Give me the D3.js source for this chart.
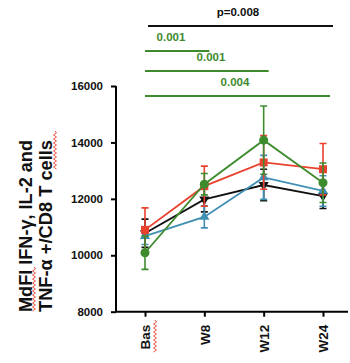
<!DOCTYPE html>
<html><head><meta charset="utf-8">
<script src="https://cdn.jsdelivr.net/npm/d3@7"></script>
<style>body{margin:0;background:#fff}svg{display:block;font-family:"Liberation Sans",Arial,sans-serif}</style>
</head><body><svg id="c" width="350" height="363"></svg>
<script>
const categories = ["Bas","W8","W12","W24"];
const yTicks = [8000,10000,12000,14000,16000];
const redVals   = [10900,12450,13290,13050];
const redErr    = [780,710,950,910];
const blackVals = [10780,11980,12490,12100];
const blackErr  = [500,440,560,440];
const blueVals  = [10680,11360,12760,12280];
const blueErr   = [300,390,780,540];
const greenVals = [10090,12520,14080,12570];
const greenErr  = [590,380,1210,700];
const sigLabels = ["p=0.008","0.001","0.001","0.004"];
const sigFrom   = ["Bas","Bas","Bas","Bas"];
const sigTo     = ["W24","W8","W12","W24"];
const yLabelLines = ["MdFI IFN-γ, IL-2 and","TNF-α +/CD8 T cells"];

const svg = d3.select("#c");
const x = d3.scalePoint().domain(categories).range([145,323]);
const y = d3.scaleLinear().domain([8000,16000]).range([311.7,86]);
const GREEN="#3e8b2e", RED="#e9412e", BLUE="#3f8fb3", BLACK="#111";

// axes
const ya = svg.append("g").attr("transform","translate(116,0)")
  .call(d3.axisLeft(y).tickValues(yTicks).tickFormat(d3.format("d")).tickSize(5).tickSizeOuter(0));
ya.select(".domain").attr("stroke-width",2).attr("d","M0,"+y(16000)+"V"+y(8000));
ya.selectAll(".tick line").attr("stroke-width",2);
ya.selectAll(".tick text").attr("font-size",11.5).attr("font-weight","bold").attr("x",-13).attr("fill","#111");

const xa = svg.append("g").attr("transform","translate(0,311.7)")
  .call(d3.axisBottom(x).tickSize(5).tickSizeOuter(0));
xa.select(".domain").attr("stroke-width",2).attr("d","M116,0H348");
xa.selectAll(".tick line").attr("stroke-width",2);
xa.selectAll(".tick text").attr("font-size",13.5).attr("font-weight","bold").attr("fill","#111")
  .attr("transform","rotate(-90)").attr("text-anchor","end").attr("x",-13).attr("y",0).attr("dy","0.36em");

// y label
const lab = svg.append("text").attr("transform","translate(0,226) rotate(-90)")
  .attr("text-anchor","middle").attr("font-weight","bold").attr("font-size",19).attr("fill","#111");
yLabelLines.forEach((t,i)=>{
  lab.append("tspan").attr("x",0).attr("y",i===0?32:52).attr("textLength",172)
    .attr("lengthAdjust","spacingAndGlyphs").text(t);
});

// squiggles (spell-check marks)
function squig(x0,y0,y1){
  let p="M"+x0+","+y0; let s=1;
  for(let yy=y0+2; yy<=y1; yy+=2){p+="L"+(x0+s*1.5)+","+yy; s=-s;}
  svg.append("path").attr("d",p).attr("fill","none").attr("stroke",RED).attr("stroke-width",0.9);
}
squig(34,267,311);
squig(55,131,170);
squig(155,320,353);

// series
const series = [
  {v:blackVals,e:blackErr,c:BLACK,m:"tridown"},
  {v:blueVals,e:blueErr,c:BLUE,m:"tri"},
  {v:redVals,e:redErr,c:RED,m:"sq"},
  {v:greenVals,e:greenErr,c:GREEN,m:"circ"}
];
series.forEach(s=>{
  const g = svg.append("g");
  categories.forEach((cat,i)=>{
    const cx=x(cat), t=y(s.v[i]+s.e[i]), b=y(s.v[i]-s.e[i]);
    g.append("path").attr("d",`M${cx},${t}V${b}M${cx-3.5},${t}H${cx+3.5}M${cx-3.5},${b}H${cx+3.5}`)
      .attr("stroke",s.c).attr("stroke-width",1.6).attr("fill","none");
  });
  g.append("path").datum(s.v).attr("d",d3.line().x((d,i)=>x(categories[i])).y(d=>y(d)))
    .attr("fill","none").attr("stroke",s.c).attr("stroke-width",1.8);
  categories.forEach((cat,i)=>{
    const cx=x(cat), cy=y(s.v[i]);
    let sym;
    if(s.m==="sq") sym=d3.symbol(d3.symbolSquare,64);
    else if(s.m==="circ") sym=d3.symbol(d3.symbolCircle,64);
    else sym=d3.symbol(d3.symbolTriangle,44);
    const rot = s.m==="tridown"?" rotate(180)":"";
    g.append("path").attr("d",sym()).attr("transform",`translate(${cx},${cy})${rot}`).attr("fill",s.c);
  });
});

// significance brackets
const sigY = [26,51,71,96];
const sigTextX = [238,171,211,235];
sigLabels.forEach((t,i)=>{
  const col = i===0?BLACK:GREEN;
  const x0 = i===0?148:x(sigFrom[i]), x1 = i===0?333:x(sigTo[i])+(i===3?7:5);
  svg.append("line").attr("x1",x0).attr("x2",x1).attr("y1",sigY[i]).attr("y2",sigY[i])
    .attr("stroke",col).attr("stroke-width",1.8);
  svg.append("text").attr("x",sigTextX[i]).attr("y",sigY[i]-10).attr("text-anchor","middle")
    .attr("font-size",11.5).attr("font-weight","bold").attr("fill",col).text(t);
});
</script></body></html>
